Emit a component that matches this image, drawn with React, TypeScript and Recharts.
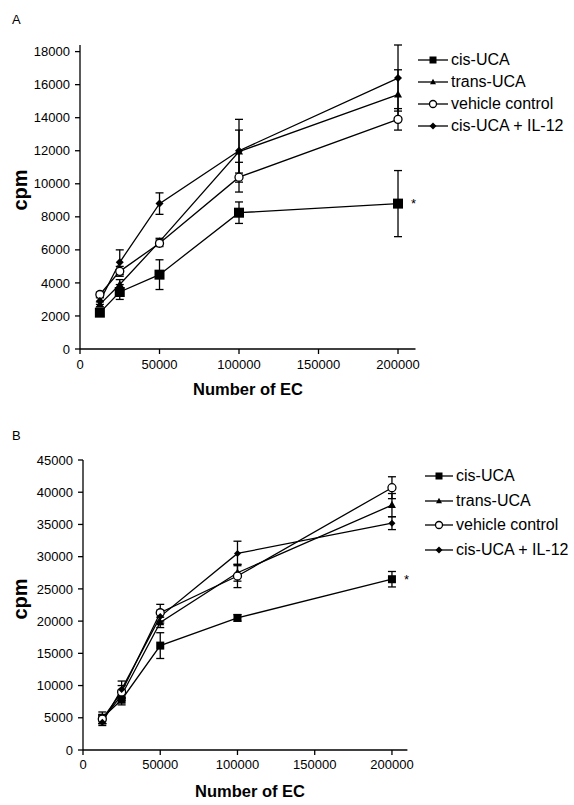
import React from 'react';
import { LineChart, Line, XAxis, YAxis, ErrorBar, ReferenceDot, Legend } from 'recharts';

const cellCounts = [12500, 25000, 50000, 100000, 200000];
const xTicks = [0, 50000, 100000, 150000, 200000];

// Panel A
const cisA = [2200, 3450, 4500, 8250, 8800];
const cisAErr = [200, 450, 900, 650, 2000];
const transA = [2700, 3900, 6500, 11950, 15400];
const transAErr = [150, 300, 200, 1300, 1500];
const vehA = [3300, 4700, 6400, 10400, 13900];
const vehAErr = [150, 300, 200, 900, 650];
const ilA = [2900, 5250, 8800, 12000, 16400];
const ilAErr = [200, 750, 650, 1900, 2000];
const yTicksA = [0, 2000, 4000, 6000, 8000, 10000, 12000, 14000, 16000, 18000];

// Panel B
const cisB = [5000, 7800, 16200, 20500, 26500];
const cisBErr = [900, 800, 2000, 500, 1200];
const transB = [4700, 8500, 19800, 27500, 38000];
const transBErr = [600, 800, 800, 1300, 1800];
const vehB = [4800, 9000, 21300, 27000, 40700];
const vehBErr = [700, 1000, 1300, 1800, 1700];
const ilB = [4300, 9400, 20700, 30500, 35200];
const ilBErr = [500, 1300, 1000, 1900, 1000];
const yTicksB = [0, 5000, 10000, 15000, 20000, 25000, 30000, 35000, 40000, 45000];

const seriesNames = ['cis-UCA', 'trans-UCA', 'vehicle control', 'cis-UCA + IL-12'];
const seriesKeys = ['cis', 'trans', 'veh', 'il'];
const markerKinds = ['square', 'triangle', 'circle', 'diamond'];

const FONT = '"Liberation Sans", Arial, Helvetica, sans-serif';

function buildRows(vals: number[][], errs: number[][]) {
  return cellCounts.map((x, i) => {
    const row: any = { x };
    seriesKeys.forEach((k, j) => {
      row[k] = vals[j][i];
      row[k + 'Err'] = errs[j][i];
    });
    return row;
  });
}

const dataA = buildRows([cisA, transA, vehA, ilA], [cisAErr, transAErr, vehAErr, ilAErr]);
const dataB = buildRows([cisB, transB, vehB, ilB], [cisBErr, transBErr, vehBErr, ilBErr]);

function marker(kind: string, cx: number, cy: number, s: number, key?: any) {
  if (cx == null || cy == null || isNaN(cx) || isNaN(cy)) return <g key={key} />;
  if (kind === 'square') {
    return <rect key={key} x={cx - s / 2} y={cy - s / 2} width={s} height={s} fill="#000" />;
  }
  if (kind === 'triangle') {
    const h = s * 0.9;
    return (
      <polygon
        key={key}
        points={`${cx},${cy - h * 0.6} ${cx - s / 2},${cy + h * 0.4} ${cx + s / 2},${cy + h * 0.4}`}
        fill="#000"
      />
    );
  }
  if (kind === 'circle') {
    return <circle key={key} cx={cx} cy={cy} r={s / 2} fill="#fff" stroke="#000" strokeWidth={1.3} />;
  }
  return (
    <polygon
      key={key}
      points={`${cx},${cy - s / 2} ${cx + s / 2},${cy} ${cx},${cy + s / 2} ${cx - s / 2},${cy}`}
      fill="#000"
    />
  );
}

const LegendBox = ({ rowH, lineW, sizes }: { rowH: number; lineW: number; sizes: number[] }) => (
  <div style={{ fontFamily: FONT, fontSize: 16, color: '#000' }}>
    {seriesNames.map((n, i) => (
      <div key={n} style={{ height: rowH, display: 'flex', alignItems: 'center', whiteSpace: 'nowrap' }}>
        <svg width={lineW + 3} height={12} style={{ flex: 'none' }}>
          <line x1={0} y1={6} x2={lineW} y2={6} stroke="#000" strokeWidth={1.3} />
          {marker(markerKinds[i], lineW / 2, 6, sizes[i])}
        </svg>
        <span style={{ lineHeight: 1 }}>{n}</span>
      </div>
    ))}
  </div>
);

const tickStyle = { fontFamily: FONT, fontSize: 13, fill: '#000' };
const axisStroke = { stroke: '#000', strokeWidth: 1.3 };

function Panel({
  data,
  yTicks,
  yMax,
  width,
  height,
  margin,
  yWidth,
  xHeight,
  xMax,
  sizes,
  legendLeft,
  legendTop,
  rowH,
  lineW,
  star,
  starOffset,
  xTickMargin,
}: any) {
  return (
    <LineChart width={width} height={height} data={data} margin={margin}>
      <XAxis
        dataKey="x"
        type="number"
        domain={[0, xMax]}
        ticks={xTicks}
        allowDataOverflow
        tick={tickStyle}
        tickSize={5}
        tickMargin={xTickMargin}
        axisLine={axisStroke}
        tickLine={axisStroke}
        height={xHeight}
      />
      <YAxis
        type="number"
        domain={[0, yMax]}
        ticks={yTicks}
        tick={tickStyle}
        tickSize={5}
        tickMargin={5}
        axisLine={axisStroke}
        tickLine={axisStroke}
        width={yWidth}
        interval={0}
      />
      <Legend
        layout="vertical"
        align="center"
        verticalAlign="middle"
        wrapperStyle={{ left: legendLeft, top: legendTop, width: 160 }}
        content={() => <LegendBox rowH={rowH} lineW={lineW} sizes={[7, 6, 7, 7]} />}
      />
      {seriesKeys.map((k, i) => (
        <Line
          key={k}
          dataKey={k}
          name={seriesNames[i]}
          stroke="#000"
          strokeWidth={1.3}
          isAnimationActive={false}
          dot={(p: any) => marker(markerKinds[i], p.cx, p.cy, sizes[i], `${k}-${p.index}`)}
          activeDot={false}
        >
          <ErrorBar dataKey={k + 'Err'} width={4} stroke="#000" strokeWidth={1.3} direction="y" />
        </Line>
      ))}
      <ReferenceDot
        x={star[0]}
        y={star[1]}
        r={0}
        fill="none"
        stroke="none"
        label={{ value: '*', position: 'right', offset: starOffset, fontSize: 13, fill: '#000', fontFamily: FONT }}
      />
    </LineChart>
  );
}

export default function App() {
  return (
    <div style={{ position: 'absolute', left: 0, top: 0, width: 574, height: 805, background: '#fff' }}>
      <div style={{ position: 'absolute', left: 0, top: 0 }}>
        <Panel
          data={dataA}
          yTicks={yTicksA}
          yMax={18000}
          width={574}
          height={380}
          margin={{ top: 45, right: 158.5, left: 0, bottom: 0 }}
          yWidth={80}
          xHeight={31}
          xMax={211000}
          sizes={[10, 8, 8, 8]}
          legendLeft={418}
          legendTop={49}
          rowH={22}
          lineW={30}
          star={[200000, 8800]}
          starOffset={13}
          xTickMargin={6}
        />
      </div>
      <div style={{ position: 'absolute', left: 0, top: 400 }}>
        <Panel
          data={dataB}
          yTicks={yTicksB}
          yMax={45000}
          width={574}
          height={405}
          margin={{ top: 60, right: 166.6, left: 0, bottom: 0 }}
          yWidth={83}
          xHeight={55}
          xMax={210000}
          sizes={[8, 8, 8, 7]}
          legendLeft={425}
          legendTop={64}
          rowH={24.5}
          lineW={28}
          star={[200000, 26500]}
          starOffset={12}
          xTickMargin={5}
        />
      </div>
      <svg
        width={574}
        height={805}
        style={{ position: 'absolute', left: 0, top: 0, pointerEvents: 'none' }}
        fontFamily={FONT}
      >
        <text x={12} y={24} fontSize={13} fill="#000">A</text>
        <text x={12} y={440} fontSize={13} fill="#000">B</text>
        <text x={248} y={395} fontSize={16.5} fontWeight="bold" textAnchor="middle" fill="#000">Number of EC</text>
        <text x={250} y={797} fontSize={16.5} fontWeight="bold" textAnchor="middle" fill="#000">Number of EC</text>
        <text x={27} y={190} fontSize={20} fontWeight="bold" textAnchor="middle" fill="#000" transform="rotate(-90, 27, 190)">cpm</text>
        <text x={27} y={599} fontSize={20} fontWeight="bold" textAnchor="middle" fill="#000" transform="rotate(-90, 27, 599)">cpm</text>
      </svg>
    </div>
  );
}
